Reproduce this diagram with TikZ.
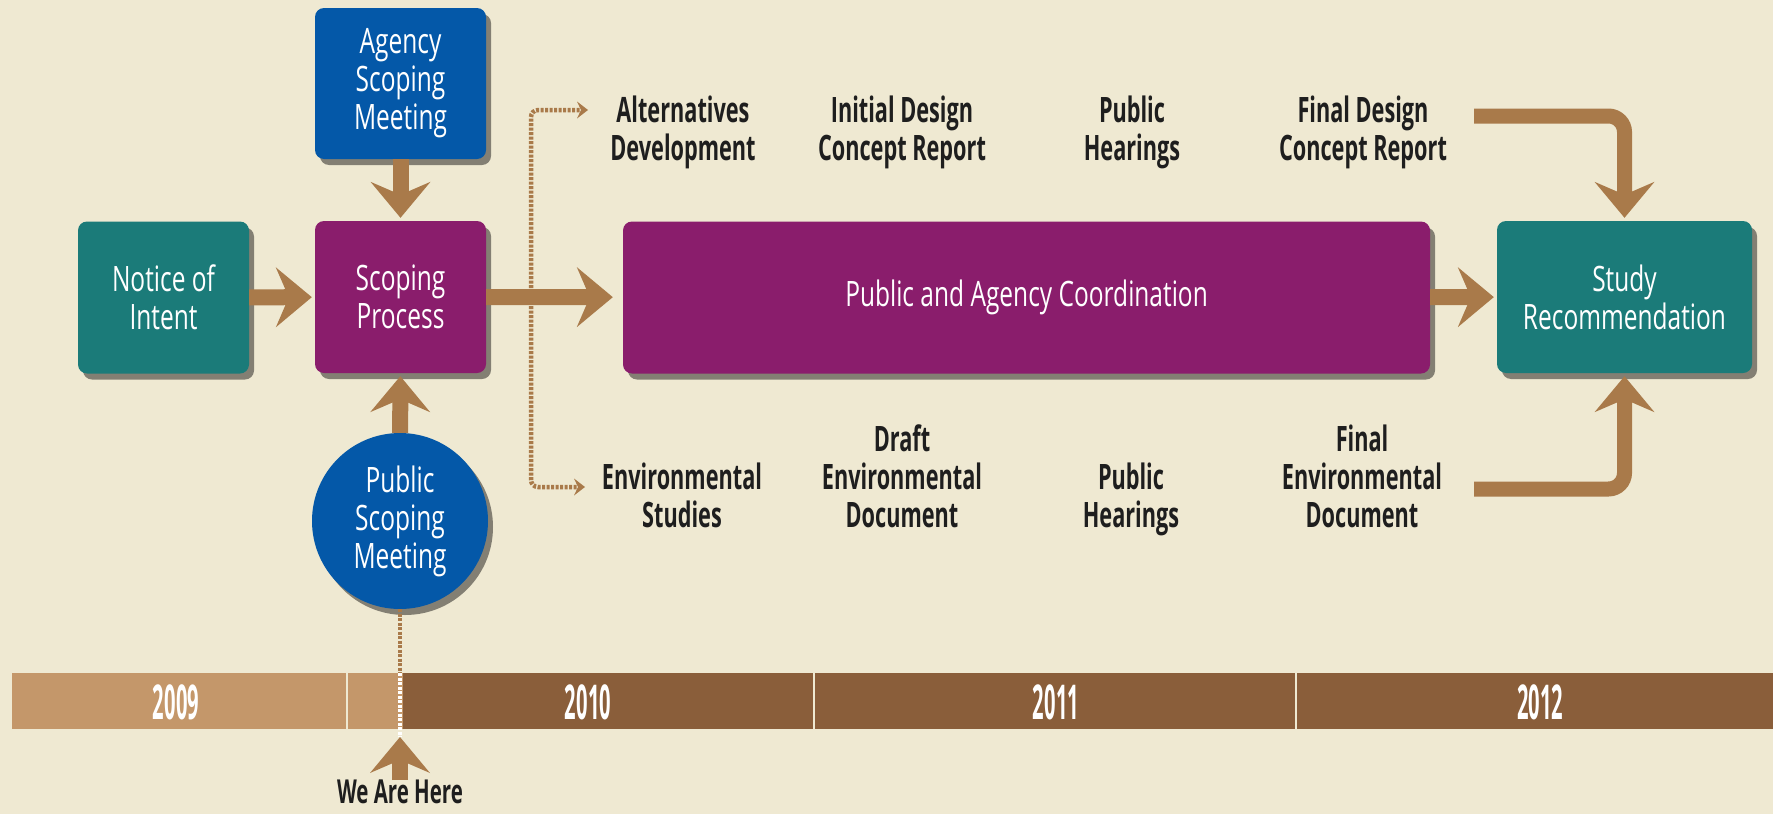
\documentclass[tikz,border=0pt]{standalone}
\usepackage{fontspec}
\setmainfont{Open Sans}
\newfontfamily\boxfont{Open Sans}[FakeStretch=0.7]
\newfontfamily\labelfont{Open Sans}[FakeStretch=0.62]
\newfontfamily\yearfont{Open Sans}[FakeStretch=0.42]
\usepackage{tikz}
\usetikzlibrary{arrows.meta}
\usetikzlibrary{shadows}

\definecolor{cream}{HTML}{EFE9D2}
\definecolor{tealbox}{HTML}{1B7B79}
\definecolor{plumbox}{HTML}{8A1D6C}
\definecolor{bluebox}{HTML}{0458A8}
\definecolor{arrowtan}{HTML}{A97A4A}
\definecolor{yearlight}{HTML}{C4976A}
\definecolor{yeardark}{HTML}{8A5E3A}
\definecolor{inkblack}{HTML}{1E1E1E}

\begin{document}
\begin{tikzpicture}[x=1pt,y=-1pt,
    box/.style={rounded corners=9pt, minimum height=152pt, inner sep=0pt, align=center,
      text=white, font=\boxfont\fontsize{35}{38}\selectfont,
      drop shadow={shadow xshift=5pt,shadow yshift=-6pt,fill=black,opacity=0.45}},
    labeltext/.style={anchor=north, inner sep=0pt, align=center, text=inkblack,
      font=\labelfont\bfseries\fontsize{35}{38}\selectfont},
    yeartext/.style={text=white, inner sep=0pt, font=\yearfont\bfseries\fontsize{48}{48}\selectfont},
    bigarrow/.style={draw=arrowtan, line width=16pt, shorten >=3pt,
      -{Stealth[length=36pt,width=60pt,inset=13pt,line width=0pt]}},
    dotline/.style={draw=arrowtan, line width=4.5pt, dash pattern=on 3pt off 1.5pt,
      rounded corners=7pt, -{Stealth[length=11pt,width=17pt,inset=4pt,line width=0pt]}}]
    \useasboundingbox (0,0) rectangle (1773,814);
    \fill[cream] (0,0) rectangle (1773,814);

    % timeline
    \fill[yearlight] (12,673) rectangle (346,729);
    \fill[yearlight] (348,673) rectangle (403,729);
    \foreach \a/\b in {403/813,815/1295,1297/1773}
    {
      \fill[yeardark] (\a,673) rectangle (\b,729);
    }
    \node[yeartext] (y2009) at (176,702) {2009};
    \node[yeartext] (y2010) at (588,702) {2010};
    \node[yeartext] (y2011) at (1056,702) {2011};
    \node[yeartext] (y2012) at (1540,702) {2012};

    % boxes
    \node[box, fill=tealbox, minimum width=171pt] (notice) at (163.5,297.5) {Notice of\\Intent};
    \node[box, fill=plumbox, minimum width=171pt] (scoping) at (400.5,297) {Scoping\\Process};
    \node[box, fill=bluebox, minimum width=171pt, minimum height=151pt] (agency) at (400.5,83.5) {Agency\\Scoping\\Meeting};
    \node[box, fill=plumbox, minimum width=807pt] (coord) at (1026.5,297.5) {Public and Agency Coordination};
    \node[box, fill=tealbox, minimum width=255pt] (study) at (1624.5,297) {Study\\Recommendation};
    \node[box, circle, fill=bluebox, minimum size=176pt] (pubmeet) at (400,521) {Public\\Scoping\\Meeting};

    % steps above and below
    \node[labeltext] (alt) at (683,96) {Alternatives\\Development};
    \node[labeltext] (idcr) at (902,96) {Initial Design\\Concept Report};
    \node[labeltext] (hear1) at (1132,96) {Public\\Hearings};
    \node[labeltext] (fdcr) at (1363,96) {Final Design\\Concept Report};
    \node[labeltext] (envst) at (682,463) {Environmental\\Studies};
    \node[labeltext] (ded) at (902,425) {Draft\\Environmental\\Document};
    \node[labeltext] (hear2) at (1131,463) {Public\\Hearings};
    \node[labeltext] (fed) at (1362,425) {Final\\Environmental\\Document};
    \node[labeltext, font=\labelfont\bfseries\fontsize{33}{36}\selectfont] (here) at (400,780) {We Are Here};

    % dotted branches
    \coordinate (fork) at (531,297);
    \coordinate (topend) at (588,110);
    \coordinate (botend) at (585,487);
    \draw[dotline] (fork) |- (topend);
    \draw[dotline] (fork) |- (botend);
    \coordinate (barhit) at (400,673);
    \coordinate (herept) at (400,737);
    \draw[arrowtan, line width=4pt, dash pattern=on 3pt off 1.5pt] (pubmeet.south) -- (barhit);
    \draw[white, line width=3.5pt, dash pattern=on 3pt off 1.5pt] (barhit) -- (herept);

    % arrows
    \draw[bigarrow] (notice) -- (scoping);
    \draw[bigarrow] (agency) -- (scoping);
    \draw[bigarrow] (pubmeet) -- (scoping);
    \draw[bigarrow, shorten >=10pt] (scoping) -- (coord);
    \draw[bigarrow] (coord) -- (study);
    \coordinate (fdstart) at (1474,116);
    \coordinate (fedstart) at (1474,489);
    \draw[bigarrow, line width=15pt, rounded corners=16pt] (fdstart) -| (study.north);
    \draw[bigarrow, line width=15pt, rounded corners=16pt] (fedstart) -| (study.south);
    \draw[bigarrow, shorten >=0pt] (here.north) -- (herept);
\end{tikzpicture}
\end{document}
